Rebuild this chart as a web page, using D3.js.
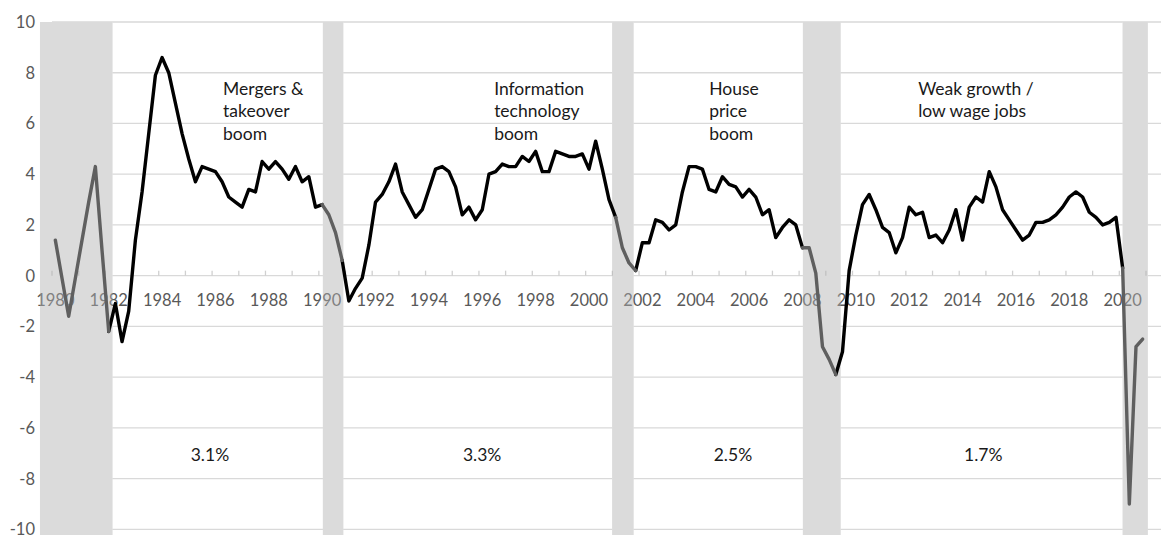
<!DOCTYPE html>
<html>
<head>
<meta charset="utf-8">
<script src="https://cdn.jsdelivr.net/npm/d3@7"></script>
<style>
  html, body { margin: 0; padding: 0; background: #fff; }
  svg { display: block; font-family: "Lato", "Open Sans", sans-serif; }
</style>
</head>
<body>
<svg id="chart" width="1161" height="535"></svg>
<script>
// ---- data: quarterly values, 1980 Q1 .. 2020 Q4 ----
const startYear = 1980;
const values = [
  1.4, -0.1, -1.6, -0.1, 1.4, 2.9, 4.3, 1.0,          // 1980-81
  -2.2, -1.1, -2.6, -1.4, 1.4, 3.3, 5.6, 7.9,         // 1982-83
  8.6, 8.0, 6.8, 5.6, 4.6, 3.7, 4.3, 4.2,             // 1984-85
  4.1, 3.7, 3.1, 2.9, 2.7, 3.4, 3.3, 4.5,             // 1986-87
  4.2, 4.5, 4.2, 3.8, 4.3, 3.7, 3.9, 2.7,             // 1988-89
  2.8, 2.4, 1.7, 0.6, -1.0, -0.5, -0.1, 1.2,          // 1990-91
  2.9, 3.2, 3.7, 4.4, 3.3, 2.8, 2.3, 2.6,             // 1992-93
  3.4, 4.2, 4.3, 4.1, 3.5, 2.4, 2.7, 2.2,             // 1994-95
  2.6, 4.0, 4.1, 4.4, 4.3, 4.3, 4.7, 4.5,             // 1996-97
  4.9, 4.1, 4.1, 4.9, 4.8, 4.7, 4.7, 4.8,             // 1998-99
  4.2, 5.3, 4.2, 3.0, 2.3, 1.1, 0.5, 0.2,             // 2000-01
  1.3, 1.3, 2.2, 2.1, 1.8, 2.0, 3.3, 4.3,             // 2002-03
  4.3, 4.2, 3.4, 3.3, 3.9, 3.6, 3.5, 3.1,             // 2004-05
  3.4, 3.1, 2.4, 2.6, 1.5, 1.9, 2.2, 2.0,             // 2006-07
  1.1, 1.1, 0.1, -2.8, -3.3, -3.9, -3.0, 0.2,         // 2008-09
  1.6, 2.8, 3.2, 2.6, 1.9, 1.7, 0.9, 1.5,             // 2010-11
  2.7, 2.4, 2.5, 1.5, 1.6, 1.3, 1.8, 2.6,             // 2012-13
  1.4, 2.7, 3.1, 2.9, 4.1, 3.5, 2.6, 2.2,             // 2014-15
  1.8, 1.4, 1.6, 2.1, 2.1, 2.2, 2.4, 2.7,             // 2016-17
  3.1, 3.3, 3.1, 2.5, 2.3, 2.0, 2.1, 2.3,             // 2018-19
  0.3, -9.0, -2.8, -2.5                                // 2020
];
// index ranges drawn in grey (recession quarters) and in black
const greyRanges  = [[0, 8], [40, 43], [84, 87], [112, 117], [160, 163]];
const blackRanges = [[8, 40], [43, 84], [87, 112], [117, 160]];
// shaded recession bands, decimal years
const recessionStart = [1979.55, 1990.15, 2000.99, 2008.14, 2020.12];
const recessionEnd   = [1982.27, 1990.92, 2001.80, 2009.56, 2021.07];
// axis ticks
const yTicks = [-10, -8, -6, -4, -2, 0, 2, 4, 6, 8, 10];
const yearTicks = d3.range(1980, 2022);
const yearLabels = d3.range(1980, 2021, 2);
// annotations (x in years, y in value units)
const boomLabels = [
  ["Mergers &", "takeover", "boom"],
  ["Information", "technology", "boom"],
  ["House", "price", "boom"],
  ["Weak growth /", "low wage jobs"]
];
const boomX = [1986.41, 1996.57, 2004.63, 2012.46];
const boomY = 7.13;
const rateLabels = ["3.1%", "3.3%", "2.5%", "1.7%"];
const rateX = [1985.92, 1996.12, 2005.52, 2014.9];
const rateY = -7.31;

// ---- chart ----
const svg = d3.select("#chart");
const W = 1161, H = 535;
const x = d3.scaleLinear().domain([1980, 2021]).range([52, 1146]);
const y = d3.scaleLinear().domain([-10, 10]).range([529.3, 22]);
const qx = i => x(startYear + i / 4 + 0.125);

// gridlines
svg.append("g").selectAll("line").data(yTicks).join("line")
  .attr("x1", x(1980)).attr("x2", W)
  .attr("y1", d => y(d)).attr("y2", d => y(d))
  .attr("stroke", "#d9d9d9").attr("stroke-width", 1.3);

// y labels
svg.append("g").selectAll("text").data(yTicks).join("text")
  .attr("x", 35).attr("y", d => y(d)).attr("dy", "0.36em")
  .attr("text-anchor", "end").attr("font-size", 16.5).attr("fill", "#595959")
  .text(d => d);

// white under-bands to hide gridlines inside bands
const bands = recessionStart.map((s, k) => [s, recessionEnd[k]]);
svg.append("g").selectAll("rect").data(bands).join("rect")
  .attr("x", d => x(d[0])).attr("width", d => x(d[1]) - x(d[0]))
  .attr("y", y(10)).attr("height", y(-10.25) - y(10))
  .attr("fill", "#fff");

// x axis ticks
svg.append("g").selectAll("line").data(yearTicks).join("line")
  .attr("x1", d => x(d)).attr("x2", d => x(d))
  .attr("y1", y(0) - 5).attr("y2", y(0))
  .attr("stroke", "#d0d0d0").attr("stroke-width", 1.3);

// x labels
svg.append("g").selectAll("text").data(yearLabels).join("text")
  .attr("x", d => x(d + 0.125)).attr("y", y(0) + 30.5)
  .attr("text-anchor", "middle").attr("font-size", 16.5).attr("fill", "#595959")
  .text(d => d);

// recession bands (semi-transparent, over labels)
svg.append("g").selectAll("rect").data(bands).join("rect")
  .attr("x", d => x(d[0])).attr("width", d => x(d[1]) - x(d[0]))
  .attr("y", y(10)).attr("height", y(-10.25) - y(10))
  .attr("fill", "#b0b0b0").attr("fill-opacity", 0.45);

// line
const line = d3.line().x(d => qx(d[0])).y(d => y(d[1]));
const seg = r => d3.range(r[0], r[1] + 1).map(i => [i, values[i]]);
svg.append("g").selectAll("path").data(blackRanges).join("path")
  .attr("d", r => line(seg(r)))
  .attr("fill", "none").attr("stroke", "#000").attr("stroke-width", 3.4)
  .attr("stroke-linejoin", "round").attr("stroke-linecap", "round");
svg.append("g").selectAll("path").data(greyRanges).join("path")
  .attr("d", r => line(seg(r)))
  .attr("fill", "none").attr("stroke", "#5f5f5f").attr("stroke-width", 3.4)
  .attr("stroke-linejoin", "round").attr("stroke-linecap", "round");

// annotations
const ann = svg.append("g").attr("font-size", 17.5).attr("fill", "#1a1a1a");
boomLabels.forEach((lines, k) => {
  ann.append("text").selectAll("tspan").data(lines).join("tspan")
    .attr("x", x(boomX[k])).attr("y", (d, j) => y(boomY) + j * 22.6)
    .text(d => d);
});
ann.selectAll("text.rate").data(rateLabels).join("text")
  .attr("class", "rate")
  .attr("x", (d, k) => x(rateX[k])).attr("y", y(rateY))
  .attr("text-anchor", "middle").text(d => d);
</script>
</body>
</html>
